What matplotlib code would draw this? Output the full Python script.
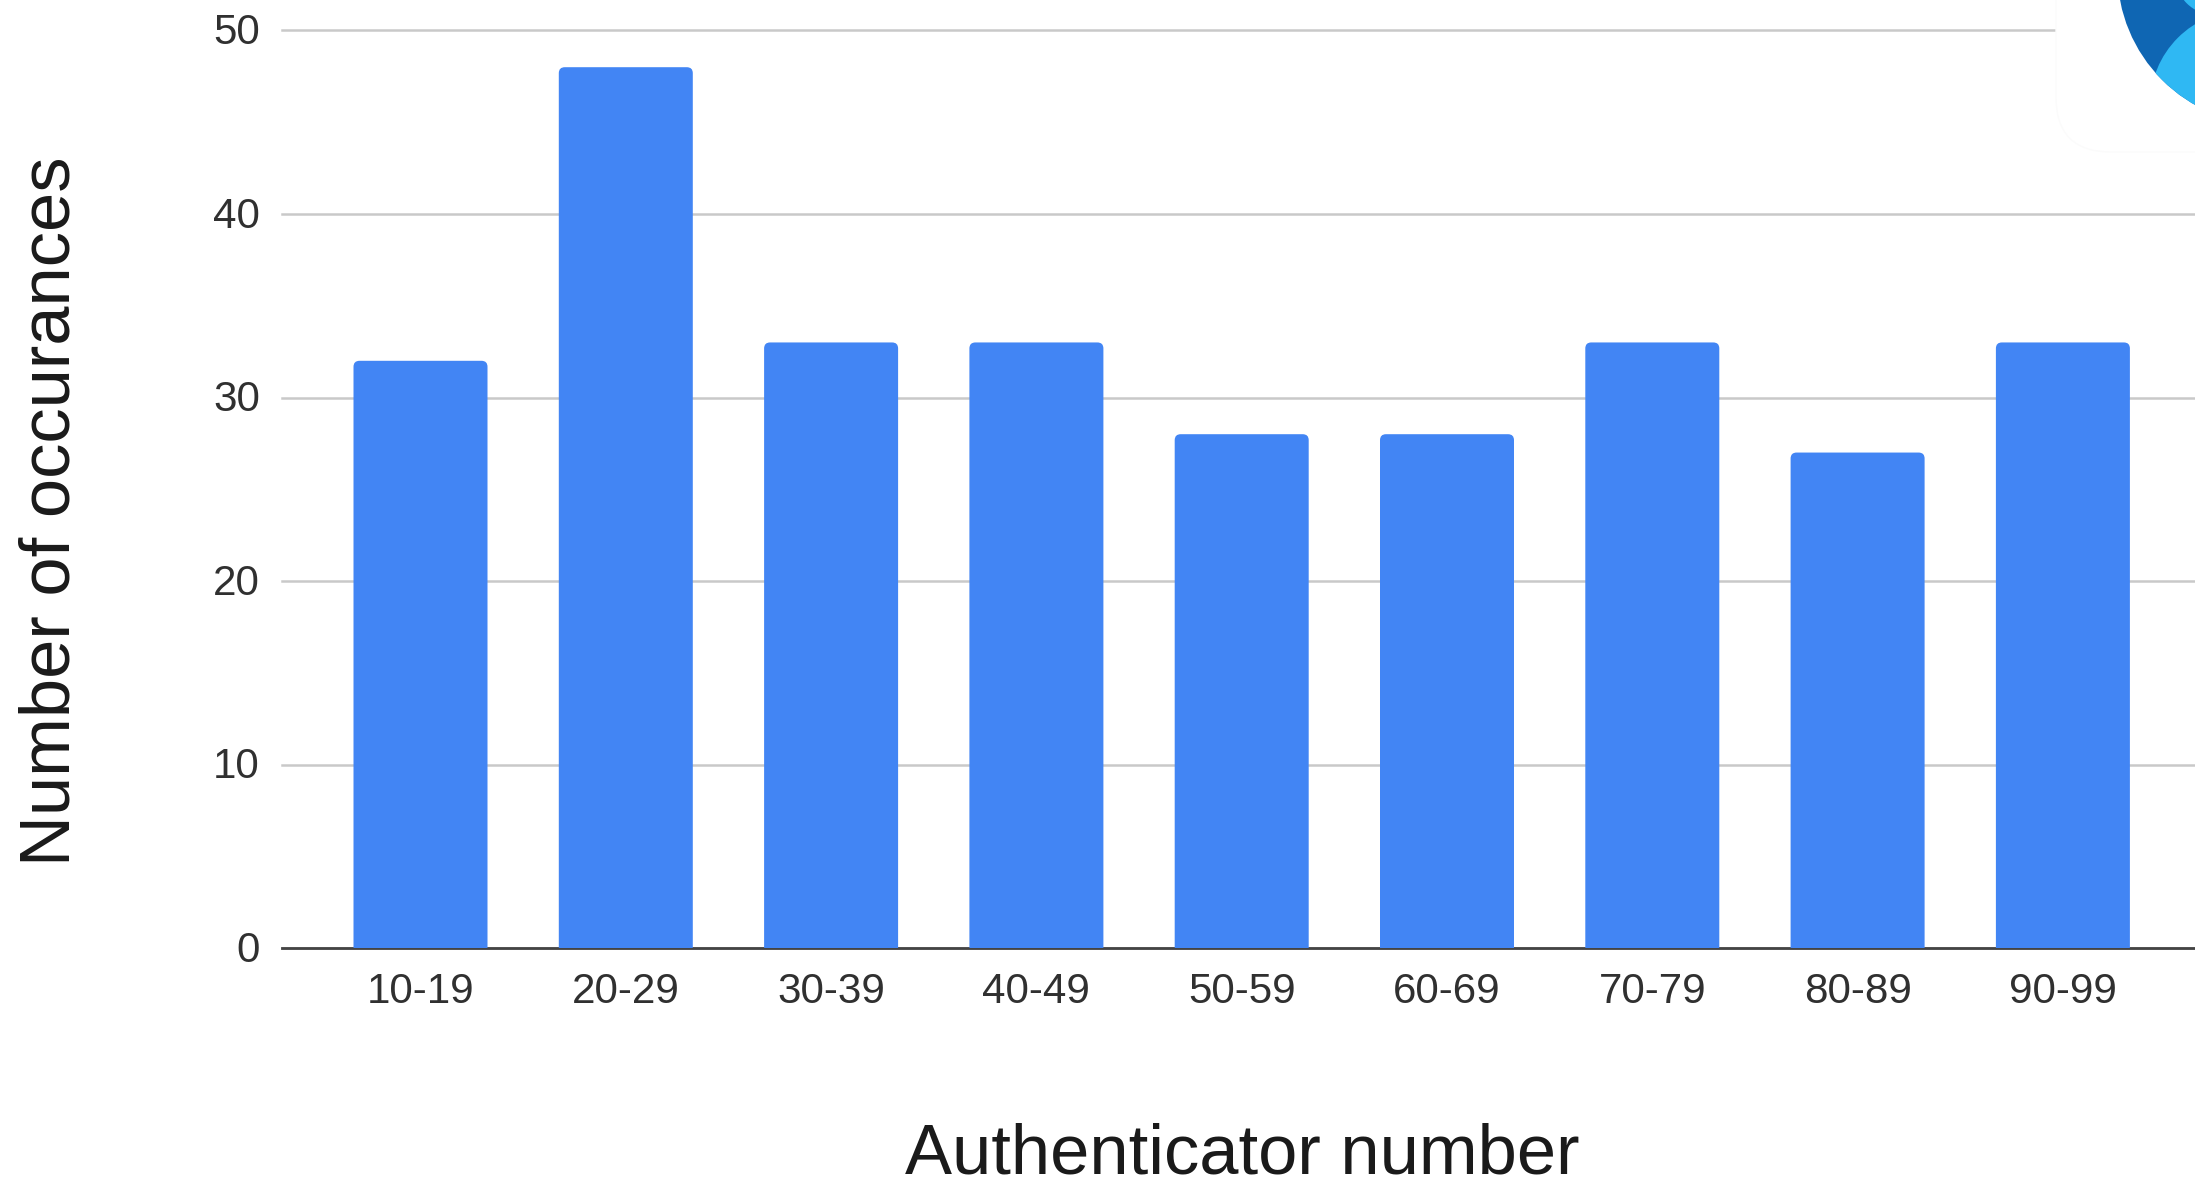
import matplotlib.pyplot as plt
from matplotlib.patches import Circle, FancyBboxPatch, PathPatch
from matplotlib.path import Path
from matplotlib.transforms import ScaledTranslation

categories = ['10-19', '20-29', '30-39', '40-49', '50-59', '60-69', '70-79',
              '80-89', '90-99']
occurrences = [32, 48, 33, 33, 28, 28, 33, 27, 33]
y_ticks = [0, 10, 20, 30, 40, 50]

FIG_W, FIG_H = 2195, 1181
BAR_COLOR = '#4285f4'
TEXT_COLOR = '#303030'


def rounded_top(x0, x1, top, rx, ry):
    verts = [(x0, 0), (x0, top - ry), (x0, top), (x0 + rx, top),
             (x1 - rx, top), (x1, top), (x1, top - ry), (x1, 0), (x0, 0)]
    codes = [Path.MOVETO, Path.LINETO, Path.CURVE3, Path.CURVE3, Path.LINETO,
             Path.CURVE3, Path.CURVE3, Path.LINETO, Path.CLOSEPOLY]
    return Path(verts, codes)


def main():
    plt.rcParams['font.family'] = ['Liberation Sans', 'DejaVu Sans']

    fig = plt.figure(figsize=(FIG_W / 100, FIG_H / 100), dpi=100)

    # Plot area in pixels: left 282, right edge of the figure, y=0 at 948
    left, right, bottom, top = 282, FIG_W, 948, 30.5
    ax = fig.add_axes([left / FIG_W, 1 - bottom / FIG_H,
                       (right - left) / FIG_W, (bottom - top) / FIG_H])

    step = 205.3  # pixels per category
    first = 420.5
    ax.set_xlim((left - first) / step, (right - first) / step)
    ax.set_ylim(0, 50)

    bar_w = 134 / step
    rx, ry = 6 / step, 6 / 18.35
    for i, v in enumerate(occurrences):
        path = rounded_top(i - bar_w / 2, i + bar_w / 2, v, rx, ry)
        ax.add_patch(PathPatch(path, facecolor=BAR_COLOR, edgecolor='none',
                               zorder=3))

    ax.set_xticks(range(len(categories)))
    ax.set_xticklabels(categories)
    ax.set_yticks(y_ticks)
    ax.tick_params(axis='both', length=0, labelsize=30.3,
                   labelcolor=TEXT_COLOR)
    ax.tick_params(axis='x', pad=17)
    ax.tick_params(axis='y', pad=16)
    ax.grid(axis='y', color='#c9c9c9', linewidth=1.8, zorder=1)
    ax.set_axisbelow(True)
    for name in ('top', 'left', 'right'):
        ax.spines[name].set_visible(False)
    ax.spines['bottom'].set_color('#444444')
    ax.spines['bottom'].set_linewidth(2.0)
    ax.spines['bottom'].set_zorder(2)
    for line in ax.get_ygridlines():
        line.set_clip_on(False)

    # Nudge the value labels up a little against their gridlines
    nudge = ScaledTranslation(0, 1.2 / 72, fig.dpi_scale_trans)
    for label in ax.get_yticklabels():
        label.set_transform(label.get_transform() + nudge)

    fig.text(1242 / FIG_W, 1 - 1155 / FIG_H, 'Authenticator number',
             fontsize=50.8, color='#1a1a1a', ha='center', va='center')
    fig.text(52 / FIG_W, 1 - 511 / FIG_H, 'Number of occurances',
             fontsize=50.8, color='#1a1a1a', ha='center', va='center',
             rotation=90)

    # Badge in the top right corner, drawn in pixel coordinates
    badge = fig.add_axes([0, 0, 1, 1], zorder=5)
    badge.set_xlim(0, FIG_W)
    badge.set_ylim(FIG_H, 0)
    badge.axis('off')
    badge.patch.set_alpha(0)
    badge.add_patch(FancyBboxPatch((2056, -60), 260, 212,
                                   boxstyle='round,pad=0,rounding_size=55',
                                   facecolor='white', edgecolor='#fbfbfb',
                                   linewidth=1))
    disc = Circle((2270, -28), 152.6, facecolor='#0f66b3', edgecolor='none')
    badge.add_patch(disc)
    for centre, radius in (((2245, 105), 95), ((2215, -25), 40)):
        light = Circle(centre, radius, facecolor='#2fb8f3', edgecolor='none')
        badge.add_patch(light)
        light.set_clip_path(disc)

    fig.savefig('out.png', dpi=100)


if __name__ == '__main__':
    main()
